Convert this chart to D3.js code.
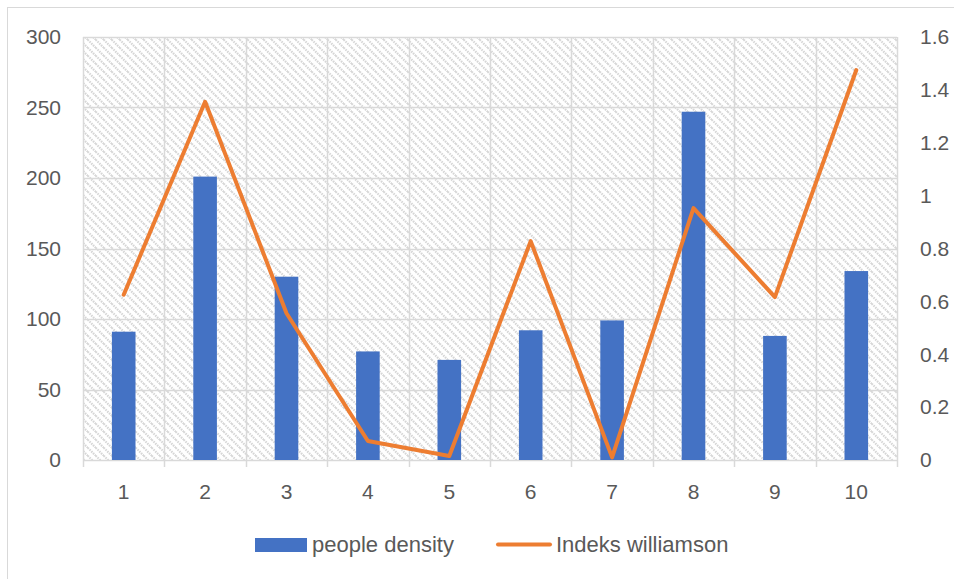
<!DOCTYPE html>
<html>
<head>
<meta charset="utf-8">
<script src="https://cdn.jsdelivr.net/npm/d3@7"></script>
<style>
  html, body { margin: 0; padding: 0; background: #fff; }
  svg { display: block; }
  text { font-family: "Liberation Sans", Arial, sans-serif; fill: #595959; }
</style>
</head>
<body>
<script>
// Categories and series
const categories = ["1", "2", "3", "4", "5", "6", "7", "8", "9", "10"];
const peopleDensity = [91, 201, 130, 77, 71, 92, 99, 247, 88, 134];
const indeksWilliamson = [0.625, 1.355, 0.555, 0.072, 0.015, 0.828, 0.01, 0.953, 0.616, 1.475];
const leftTicks = [0, 50, 100, 150, 200, 250, 300];
const rightTicks = [0, 0.2, 0.4, 0.6, 0.8, 1, 1.2, 1.4, 1.6];

const W = 954, H = 579;
const plot = { left: 83, right: 897, top: 37, bottom: 460 };

const svg = d3.select("body").append("svg").attr("width", W).attr("height", H);

// Hatched plot-area fill
const defs = svg.append("defs");
const pat = defs.append("pattern")
  .attr("id", "hatch")
  .attr("patternUnits", "userSpaceOnUse")
  .attr("width", 8).attr("height", 8);
pat.append("rect").attr("width", 8).attr("height", 8).attr("fill", "#fff");
pat.append("path")
  .attr("d", "M-2,-2 L10,10 M-2,6 L2,10 M6,-2 L10,2")
  .attr("stroke", "#d6d6d6").attr("stroke-width", 2.2)
  .attr("stroke-dasharray", "1.5,1");

// Chart frame
svg.append("rect")
  .attr("x", 7.5).attr("y", 7.5)
  .attr("width", W).attr("height", H)
  .attr("fill", "none").attr("stroke", "#d9d9d9").attr("stroke-width", 1);

const x = d3.scaleBand().domain(categories).range([plot.left, plot.right]).paddingInner(0).paddingOuter(0);
const yL = d3.scaleLinear().domain([0, 300]).range([plot.bottom, plot.top]);
const yR = d3.scaleLinear().domain([0, 1.6]).range([plot.bottom, plot.top]);

svg.append("rect")
  .attr("x", plot.left).attr("y", plot.top)
  .attr("width", plot.right - plot.left).attr("height", plot.bottom - plot.top)
  .attr("fill", "url(#hatch)");

// Horizontal gridlines (left axis)
svg.append("g").selectAll("line").data(leftTicks).join("line")
  .attr("x1", plot.left).attr("x2", plot.right)
  .attr("y1", d => Math.round(yL(d)) + 0.5).attr("y2", d => Math.round(yL(d)) + 0.5)
  .attr("stroke", "#d9d9d9").attr("stroke-width", 1.5);

// Vertical gridlines at category boundaries, with tick marks below the axis
const bounds = categories.map(c => x(c)).concat([x(categories[categories.length - 1]) + x.bandwidth()]);
svg.append("g").selectAll("line").data(bounds).join("line")
  .attr("x1", d => Math.round(d) + 0.5).attr("x2", d => Math.round(d) + 0.5)
  .attr("y1", plot.top).attr("y2", plot.bottom + 7)
  .attr("stroke", "#d9d9d9").attr("stroke-width", 1.5);

// Bars
const barW = x.bandwidth() * 0.29;
svg.append("g").selectAll("rect").data(categories).join("rect")
  .attr("x", (c) => x(c) + (x.bandwidth() - barW) / 2)
  .attr("width", barW)
  .attr("y", (c, i) => yL(peopleDensity[i]))
  .attr("height", (c, i) => yL(0) - yL(peopleDensity[i]))
  .attr("fill", "#4472C4");

// Line series on secondary axis
const line = d3.line()
  .x((d, i) => x(categories[i]) + x.bandwidth() / 2)
  .y(d => yR(d));
svg.append("path")
  .datum(indeksWilliamson)
  .attr("d", line)
  .attr("fill", "none")
  .attr("stroke", "#ED7D31")
  .attr("stroke-width", 4)
  .attr("stroke-linejoin", "round")
  .attr("stroke-linecap", "round");

// Left axis labels
svg.append("g").selectAll("text").data(leftTicks).join("text")
  .attr("x", 61).attr("y", d => yL(d))
  .attr("dy", "0.35em")
  .attr("text-anchor", "end")
  .style("font-size", "21px")
  .text(d => d);

// Right axis labels
svg.append("g").selectAll("text").data(rightTicks).join("text")
  .attr("x", 920).attr("y", d => yR(d))
  .attr("dy", "0.35em")
  .attr("text-anchor", "start")
  .style("font-size", "21px")
  .text(d => d);

// Category labels
svg.append("g").selectAll("text").data(categories).join("text")
  .attr("x", c => x(c) + x.bandwidth() / 2)
  .attr("y", 499)
  .attr("text-anchor", "middle")
  .style("font-size", "21px")
  .text(c => c);

// Legend
const lg = svg.append("g");
lg.append("rect").attr("x", 255).attr("y", 538).attr("width", 52).attr("height", 14).attr("fill", "#4472C4");
lg.append("text").attr("x", 312).attr("y", 552).style("font-size", "22px").text("people density");
lg.append("line").attr("x1", 498).attr("x2", 550).attr("y1", 544.5).attr("y2", 544.5)
  .attr("stroke", "#ED7D31").attr("stroke-width", 4).attr("stroke-linecap", "round");
lg.append("text").attr("x", 556).attr("y", 552).style("font-size", "22px").text("Indeks williamson");
</script>
</body>
</html>
